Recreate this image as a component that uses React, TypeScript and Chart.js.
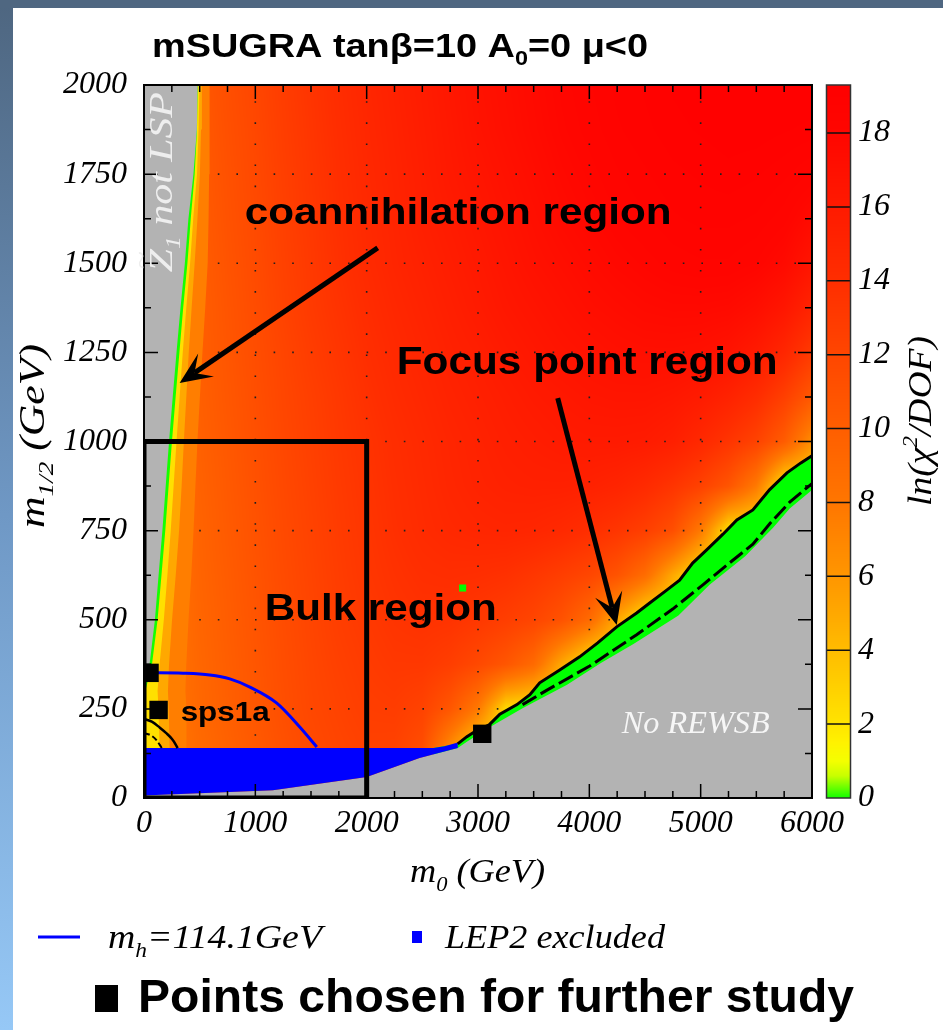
import React, { useEffect, useRef } from 'react';
import { Chart, registerables } from 'chart.js';

Chart.register(...registerables);

// ---------------- axes ----------------
const M0_MIN = 0, M0_MAX = 6000;
const M12_MIN = 0, M12_MAX = 2000;
const CHI_MIN = 0, CHI_MAX = 19.3;
const X_MAJOR = 1000, X_MINOR = 250;
const Y_MAJOR = 250, Y_MINOR = 125;
const CB_STEP = 2;

// ---------------- colour map  ln(chi^2/DOF) ----------------
const CMAP_VALUES = [0, 0.25, 0.6, 1, 1.5, 2, 3, 4, 5, 6, 7, 8, 9, 10, 11, 12, 13, 14, 15, 16, 17, 18, 19.3];
const CMAP_COLORS = ['#10ff00', '#60ff00', '#c8ff00', '#f4ff00', '#fff200', '#ffe400', '#ffd000', '#ffbc00', '#ffa800', '#ff9600', '#ff8600', '#ff7600', '#ff6a00', '#ff5e00', '#ff5200', '#ff4600', '#ff3a00', '#ff2e00', '#ff2400', '#ff1a00', '#ff1000', '#ff0600', '#ff0000'];

// ---------------- ln(chi^2/DOF) scan grid ----------------
const M0_GRID = [0, 250, 500, 750, 1000, 1250, 1500, 1750, 2000, 2250, 2500, 2750, 3000, 3250, 3500, 3750, 4000, 4250, 4500, 4750, 5000, 5250, 5500, 5750, 6000];
const M12_GRID = [2000, 1875, 1750, 1625, 1500, 1375, 1250, 1125, 1000, 875, 750, 625, 500, 375, 250, 125, 0];
const F_2000 = [8, 9, 10.5, 11.3, 12, 12.8, 13.5, 14.2, 14.8, 15.3, 15.8, 16.3, 16.8, 17.2, 17.6, 18, 18.3, 18.6, 18.8, 19, 19.1, 19.2, 19.2, 19.2, 19.2];
const F_1875 = [8, 9, 10.4, 11.2, 11.9, 12.7, 13.4, 14.1, 14.7, 15.2, 15.7, 16.2, 16.7, 17.1, 17.5, 17.9, 18.2, 18.5, 18.7, 18.9, 19, 19.1, 19.1, 19, 18.9];
const F_1750 = [8, 9, 10.3, 11.1, 11.8, 12.6, 13.3, 14, 14.6, 15.1, 15.6, 16.1, 16.5, 16.9, 17.3, 17.7, 18, 18.3, 18.5, 18.7, 18.8, 18.9, 18.8, 18.6, 18.3];
const F_1625 = [8, 9, 10.2, 11, 11.7, 12.5, 13.2, 13.9, 14.5, 15, 15.5, 15.9, 16.3, 16.7, 17.1, 17.5, 17.8, 18.1, 18.3, 18.5, 18.6, 18.6, 18.5, 18.2, 17.5];
const F_1500 = [8, 9, 10.1, 10.9, 11.6, 12.4, 13.1, 13.8, 14.4, 14.9, 15.3, 15.7, 16.1, 16.5, 16.9, 17.2, 17.5, 17.8, 18, 18.2, 18.3, 18.3, 18.1, 17.6, 16.5];
const F_1375 = [8, 9, 10, 10.8, 11.5, 12.3, 13, 13.6, 14.2, 14.7, 15.1, 15.5, 15.9, 16.3, 16.6, 16.9, 17.2, 17.4, 17.6, 17.7, 17.7, 17.6, 17.2, 16.4, 15];
const F_1250 = [8, 9, 10, 10.7, 11.4, 12.1, 12.8, 13.4, 14, 14.5, 14.9, 15.3, 15.6, 16, 16.3, 16.6, 16.8, 17, 17.1, 17.1, 17, 16.7, 16, 14.8, 13];
const F_1125 = [8, 8.9, 9.9, 10.6, 11.3, 12, 12.6, 13.2, 13.8, 14.3, 14.7, 15.1, 15.4, 15.7, 16, 16.2, 16.4, 16.5, 16.5, 16.3, 15.9, 15.2, 14.2, 12.6, 10.5];
const F_1000 = [8, 8.8, 9.8, 10.5, 11.2, 11.9, 12.5, 13.1, 13.6, 14.1, 14.5, 14.9, 15.2, 15.5, 15.7, 15.9, 16, 16, 15.9, 15.5, 14.6, 13.5, 12.3, 10.2, 6.5];
const F_875 = [8, 8.7, 9.7, 10.4, 11.1, 11.8, 12.4, 13, 13.5, 14, 14.4, 14.8, 15.1, 15.3, 15.4, 15.4, 15.3, 15, 14.4, 13.5, 12.4, 10.8, 7.8, 2, 2];
const F_750 = [8, 8.6, 9.6, 10.3, 11, 11.7, 12.3, 12.9, 13.4, 13.9, 14.3, 14.6, 14.8, 14.9, 14.8, 14.5, 14, 13.4, 12.6, 11.3, 7.8, 2.2, 2, 2, 2];
const F_625 = [8, 8.5, 9.5, 10.2, 10.9, 11.6, 12.2, 12.8, 13.3, 13.7, 14, 14.1, 14, 13.8, 13.3, 12.7, 12, 10.9, 8.8, 5, 2, 2, 2, 2, 2];
const F_500 = [8, 8.4, 9.4, 10.1, 10.8, 11.5, 12.1, 12.7, 13.1, 13.5, 13.7, 13.6, 13.2, 12.7, 12.1, 11, 9, 5, 2, 2, 2, 2, 2, 2, 2];
const F_375 = [8, 8.3, 9.3, 10, 10.7, 11.4, 12, 12.5, 12.9, 13.2, 13.2, 12.7, 11.8, 10.7, 9, 5, 2, 2, 2, 2, 2, 2, 2, 2, 2];
const F_250 = [8, 8.2, 9.2, 9.9, 10.6, 11.3, 11.9, 12.3, 12.7, 12.8, 12.3, 10.6, 7.8, 2.5, 2, 2, 2, 2, 2, 2, 2, 2, 2, 2, 2];
const F_125 = [8, 8, 9, 9.7, 10.4, 11.1, 11.7, 12.1, 12.4, 12.3, 11.3, 6, 2, 2, 2, 2, 2, 2, 2, 2, 2, 2, 2, 2, 2];
const F_0 = [8, 8, 9, 9.7, 10.4, 11.1, 11.7, 12.1, 12.4, 12.3, 11.3, 6, 2, 2, 2, 2, 2, 2, 2, 2, 2, 2, 2, 2, 2];
const FIELD = [F_2000, F_1875, F_1750, F_1625, F_1500, F_1375, F_1250, F_1125, F_1000, F_875, F_750, F_625, F_500, F_375, F_250, F_125, F_0];

// ---------------- coannihilation side: contour edges (m0 at each m1/2) ----------------
const COAN_M12 = [0, 140, 250, 300, 375, 500, 625, 750, 875, 1000, 1125, 1250, 1375, 1500, 1625, 1750, 1875, 2000];
const LSP_EDGE_M0 = [0, 0, 0, 0, 50, 98, 131, 165, 195, 225, 258, 292, 328, 367, 399, 444, 475, 481];
const GREEN_EDGE_M0 = [0, 0, 0, 12, 72, 122, 157, 191, 221, 251, 284, 318, 352, 390, 420, 455, 476, 482];
const YELLOW_EDGE_M0 = [140, 140, 130, 122, 140, 178, 210, 240, 266, 292, 320, 348, 380, 414, 442, 476, 490, 498];
const AMBER_EDGE_M0 = [230, 230, 222, 215, 225, 252, 285, 315, 338, 358, 380, 402, 428, 455, 480, 502, 512, 520];
const ORANGE_EDGE_M0 = [385, 385, 378, 372, 380, 400, 425, 445, 462, 480, 502, 525, 550, 572, 580, 585, 588, 590];
const COAN_LEVELS = { orange: 7.5, amber: 5, yellow: 2.2 };

// ---------------- focus point side ----------------
const GREEN_PATCH = [[2600, 140], [2700, 146]];
const FOCUS_SOLID = [[2818, 152], [2900, 172], [2980, 188], [3100, 205], [3196, 235], [3350, 262], [3466, 290], [3554, 323], [3734, 359], [3913, 396], [4075, 435], [4246, 480], [4425, 519], [4542, 547], [4695, 583], [4811, 611], [4928, 659], [5054, 696], [5200, 740], [5325, 780], [5469, 808], [5620, 865], [5775, 912], [5900, 940], [6000, 960]];
const FOCUS_DASHED = [[3400, 262], [3616, 302], [4003, 370], [4425, 458], [4749, 530], [5020, 598], [5262, 660], [5469, 712], [5622, 770], [5800, 830], [6000, 882]];
const REWSB_EDGE = [[2818, 140], [2900, 158], [3100, 198], [3400, 252], [3800, 318], [4100, 378], [4400, 433], [4800, 512], [5080, 598], [5400, 678], [5650, 758], [5800, 812], [6000, 864]];
const LEP_BOTTOM = [[0, 6], [54, 8], [1157, 22], [2000, 59], [2475, 112], [2818, 140]];
const LEP_TOP = [[0, 140], [2600, 140], [2700, 145], [2818, 156]];

// ---------------- lines & points ----------------
const MH_LINE = [[50, 351], [124, 351], [350, 350], [591, 345], [771, 334], [951, 311], [1193, 266], [1399, 199], [1552, 143]];
const ARC_SOLID = [[0, 222], [70, 214], [140, 198], [200, 182], [250, 166], [285, 150], [302, 140]];
const ARC_DASHED = [[0, 182], [60, 176], [110, 163], [150, 145], [160, 140]];
const BULK_BOX = [[0, 0], [2000, 0], [2000, 1000], [0, 1000], [0, 0]];
const CHOSEN_M0 = [50, 131, 3038];
const CHOSEN_M12 = [351, 247, 180];
const STRAY_GREEN = [[2862, 589]];

// ---------------- annotations (data coordinates) ----------------
const COAN_ARROW = [[2099, 1543], [320, 1164]];
const FOCUS_ARROW = [[3716, 1122], [4246, 485]];
const LBL_COAN = [904, 1610];
const LBL_FOCUS = [2270, 1189];
const LBL_BULK = [1084, 499];
const LBL_SPS = [329, 216];
const LBL_REWSB = [4291, 182];
const LBL_LSP = [250, 1475];

const SANS = '"Liberation Sans", Arial, sans-serif';
const SERIF = '"Liberation Serif", "Times New Roman", serif';

// ---------------- helpers ----------------
function hexToRgb(h: string) {
  const n = parseInt(h.slice(1), 16);
  return [(n >> 16) & 255, (n >> 8) & 255, n & 255];
}
const CMAP_RGB = CMAP_COLORS.map(hexToRgb);
function cmapRGB(v: number) {
  if (v <= CMAP_VALUES[0]) return CMAP_RGB[0];
  const last = CMAP_VALUES.length - 1;
  if (v >= CMAP_VALUES[last]) return CMAP_RGB[last];
  let k = 0;
  while (k < last - 1 && v > CMAP_VALUES[k + 1]) k++;
  const t = (v - CMAP_VALUES[k]) / (CMAP_VALUES[k + 1] - CMAP_VALUES[k]);
  const a = CMAP_RGB[k], b = CMAP_RGB[k + 1];
  return [0, 1, 2].map((c) => Math.round(a[c] + (b[c] - a[c]) * t));
}
function cmapCss(v: number) {
  const [r, g, b] = cmapRGB(v);
  return `rgb(${r},${g},${b})`;
}
const pts = (a: number[][]) => a.map(([x, y]) => ({ x, y }));
function closedPoly(a: number[][]) {
  let iMin = 0, iMax = 0;
  a.forEach((p, i) => {
    if (p[0] < a[iMin][0]) iMin = i;
    if (p[0] > a[iMax][0]) iMax = i;
  });
  const rot = a.slice(iMin).concat(a.slice(0, iMin));
  return pts([...rot, rot[0], a[iMax]]);
}
function bandPoly(edge: number[]) {
  const p = edge.map((m0, i) => [m0, COAN_M12[i]]);
  return [[0, 0], ...p, [0, M12_MAX]];
}

type Run = { t: string; s?: number; r?: number; over?: boolean };
function drawRich(ctx: CanvasRenderingContext2D, runs: Run[], x: number, y: number, o: any) {
  const font = (s: number) => `${o.italic ? 'italic ' : ''}${o.weight || 'normal'} ${o.size * s}px ${o.family}`;
  const items: any[] = [];
  let total = 0, prevX = 0, prevW = 0;
  for (const run of runs) {
    const s = run.s ?? 1;
    ctx.font = font(s);
    const w = ctx.measureText(run.t).width;
    if (run.over) items.push({ run, x: prevX + (prevW - w) / 2, s });
    else {
      items.push({ run, x: total, s });
      prevX = total; prevW = w; total += w;
    }
  }
  const sx = o.width ? o.width / total : 1;
  ctx.save();
  ctx.translate(x, y);
  if (o.rotate) ctx.rotate(o.rotate);
  ctx.scale(sx, 1);
  if (o.align === 'center') ctx.translate(-total / 2, 0);
  ctx.fillStyle = o.color;
  ctx.textAlign = 'left';
  ctx.textBaseline = 'alphabetic';
  for (const it of items) {
    ctx.font = font(it.s);
    ctx.fillText(it.run.t, it.x, (it.run.r ?? 0) * o.size);
  }
  ctx.restore();
}

function drawArrow(ctx: CanvasRenderingContext2D, x1: number, y1: number, x2: number, y2: number) {
  const dx = x2 - x1, dy = y2 - y1, len = Math.hypot(dx, dy);
  const ux = dx / len, uy = dy / len, nx = -uy, ny = ux;
  const hl = 32, hw = 14, notch = 18;
  ctx.save();
  ctx.strokeStyle = '#000';
  ctx.fillStyle = '#000';
  ctx.lineWidth = 5;
  ctx.beginPath();
  ctx.moveTo(x1, y1);
  ctx.lineTo(x2 - ux * notch, y2 - uy * notch);
  ctx.stroke();
  ctx.beginPath();
  ctx.moveTo(x2, y2);
  ctx.lineTo(x2 - ux * hl + nx * hw, y2 - uy * hl + ny * hw);
  ctx.lineTo(x2 - ux * notch, y2 - uy * notch);
  ctx.lineTo(x2 - ux * hl - nx * hw, y2 - uy * hl - ny * hw);
  ctx.closePath();
  ctx.fill();
  ctx.restore();
}

// ---------------- plugin ----------------
const msugraPlugin = {
  id: 'msugra',
  beforeDraw(chart: any) {
    const ctx = chart.ctx;
    ctx.save();
    ctx.fillStyle = '#ffffff';
    ctx.fillRect(0, 0, chart.width, chart.height);
    const g = ctx.createLinearGradient(0, 0, 0, chart.height);
    g.addColorStop(0, '#4e6680');
    g.addColorStop(0.5, '#6f98c5');
    g.addColorStop(1, '#96c8f6');
    ctx.fillStyle = g;
    ctx.fillRect(0, 0, 13, chart.height);
    ctx.fillStyle = '#4f6781';
    ctx.fillRect(0, 0, chart.width, 8);
    ctx.restore();
  },
  beforeDatasetsDraw(chart: any) {
    const { ctx, chartArea: a, scales } = chart;
    const xs = scales.x, ys = scales.y;
    const L = Math.round(a.left), T = Math.round(a.top);
    const W = Math.round(a.right) - L, H = Math.round(a.bottom) - T;
    const img = ctx.createImageData(W, H);
    const N = 1024;
    const lut = new Uint8Array(N * 3);
    for (let k = 0; k < N; k++) {
      const c = cmapRGB(CHI_MIN + (CHI_MAX - CHI_MIN) * k / (N - 1));
      lut[k * 3] = c[0]; lut[k * 3 + 1] = c[1]; lut[k * 3 + 2] = c[2];
    }
    const colI = new Int32Array(W), colF = new Float32Array(W);
    for (let px = 0; px < W; px++) {
      const m0 = xs.getValueForPixel(L + px + 0.5);
      let i = 0;
      while (i < M0_GRID.length - 2 && m0 > M0_GRID[i + 1]) i++;
      colI[px] = i;
      colF[px] = Math.min(1, Math.max(0, (m0 - M0_GRID[i]) / (M0_GRID[i + 1] - M0_GRID[i])));
    }
    for (let py = 0; py < H; py++) {
      const m12 = ys.getValueForPixel(T + py + 0.5);
      let j = 0;
      while (j < M12_GRID.length - 2 && m12 < M12_GRID[j + 1]) j++;
      const f = Math.min(1, Math.max(0, (M12_GRID[j] - m12) / (M12_GRID[j] - M12_GRID[j + 1])));
      const r0 = FIELD[j], r1 = FIELD[j + 1];
      for (let px = 0; px < W; px++) {
        const i = colI[px], t = colF[px];
        const v = (r0[i] * (1 - t) + r0[i + 1] * t) * (1 - f) + (r1[i] * (1 - t) + r1[i + 1] * t) * f;
        let k = Math.round((v - CHI_MIN) / (CHI_MAX - CHI_MIN) * (N - 1));
        k = Math.max(0, Math.min(N - 1, k));
        const o = (py * W + px) * 4;
        img.data[o] = lut[k * 3];
        img.data[o + 1] = lut[k * 3 + 1];
        img.data[o + 2] = lut[k * 3 + 2];
        img.data[o + 3] = 255;
      }
    }
    ctx.putImageData(img, L, T);

    // dotted grid
    ctx.save();
    ctx.strokeStyle = '#202020';
    ctx.lineWidth = 1.6;
    ctx.setLineDash([1.6, 17]);
    for (let v = M12_MIN + Y_MAJOR; v < M12_MAX; v += Y_MAJOR) {
      const y = ys.getPixelForValue(v);
      ctx.beginPath(); ctx.moveTo(a.left + 18, y); ctx.lineTo(a.right, y); ctx.stroke();
    }
    ctx.setLineDash([1.6, 19.5]);
    for (let v = M0_MIN + X_MAJOR; v < M0_MAX; v += X_MAJOR) {
      const x = xs.getPixelForValue(v);
      ctx.beginPath(); ctx.moveTo(x, a.bottom - 20); ctx.lineTo(x, a.top); ctx.stroke();
    }
    ctx.restore();
  },
  afterDatasetsDraw(chart: any) {
    const { ctx, chartArea: a, scales } = chart;
    const xs = scales.x, ys = scales.y;
    ctx.save();
    ctx.strokeStyle = '#000';
    ctx.lineWidth = 2;
    ctx.strokeRect(a.left, a.top, a.right - a.left, a.bottom - a.top);
    ctx.lineWidth = 1.5;
    ctx.beginPath();
    for (let v = M0_MIN; v <= M0_MAX; v += X_MINOR) {
      const len = v % X_MAJOR === 0 ? 14 : 7;
      const x = xs.getPixelForValue(v);
      ctx.moveTo(x, a.bottom); ctx.lineTo(x, a.bottom - len);
      ctx.moveTo(x, a.top); ctx.lineTo(x, a.top + len);
    }
    for (let v = M12_MIN; v <= M12_MAX; v += Y_MINOR) {
      const len = v % Y_MAJOR === 0 ? 14 : 7;
      const y = ys.getPixelForValue(v);
      ctx.moveTo(a.left, y); ctx.lineTo(a.left + len, y);
      ctx.moveTo(a.right, y); ctx.lineTo(a.right - len, y);
    }
    ctx.stroke();
    ctx.restore();

    const P = (p: number[]) => [xs.getPixelForValue(p[0]), ys.getPixelForValue(p[1])];
    for (const arr of [COAN_ARROW, FOCUS_ARROW]) {
      const [x1, y1] = P(arr[0]);
      const [x2, y2] = P(arr[1]);
      drawArrow(ctx, x1, y1, x2, y2);
    }
    const bold = { family: SANS, weight: 'bold', color: '#000' };
    let q = P(LBL_COAN);
    drawRich(ctx, [{ t: 'coannihilation region' }], q[0], q[1], { ...bold, size: 37, width: 427 });
    q = P(LBL_FOCUS);
    drawRich(ctx, [{ t: 'Focus point region' }], q[0], q[1], { ...bold, size: 38, width: 381 });
    q = P(LBL_BULK);
    drawRich(ctx, [{ t: 'Bulk region' }], q[0], q[1], { ...bold, size: 37, width: 232 });
    q = P(LBL_SPS);
    drawRich(ctx, [{ t: 'sps1a' }], q[0], q[1], { ...bold, size: 28, width: 89 });
    q = P(LBL_REWSB);
    drawRich(ctx, [{ t: 'No REWSB' }], q[0], q[1], { family: SERIF, italic: true, size: 32, width: 148, color: '#f6f6f6' });
    q = P(LBL_LSP);
    drawRich(ctx, [{ t: 'Z' }, { t: '~', s: 0.8, r: -0.66, over: true }, { t: '1', s: 0.62, r: 0.25 }, { t: ' not LSP' }], q[0], q[1],
      { family: SERIF, italic: true, size: 33, width: 180, color: '#eeeeee', rotate: -Math.PI / 2 });
  },
  afterDraw(chart: any) {
    const { ctx, chartArea: a, scales } = chart;
    const yc = scales.yc;
    // colour bar
    const cbL = a.right + 14.5, cbW = 24;
    ctx.save();
    for (let py = Math.floor(a.top); py < Math.ceil(a.bottom); py++) {
      const v = yc.getValueForPixel(py + 0.5);
      ctx.fillStyle = cmapCss(v);
      ctx.fillRect(cbL, py, cbW, 1);
    }
    ctx.strokeStyle = '#111';
    ctx.lineWidth = 1.5;
    ctx.beginPath();
    for (let v = CHI_MIN + CB_STEP; v < CHI_MAX; v += CB_STEP) {
      const y = yc.getPixelForValue(v);
      ctx.moveTo(cbL, y); ctx.lineTo(cbL + cbW, y);
    }
    ctx.stroke();
    ctx.strokeStyle = '#333';
    ctx.strokeRect(cbL, a.top, cbW, a.bottom - a.top);
    ctx.restore();

    // titles
    drawRich(ctx, [{ t: 'mSUGRA tanβ=10 A' }, { t: '0', s: 0.62, r: 0.25 }, { t: '=0 μ<0' }], 152, 57,
      { family: SANS, weight: 'bold', size: 33, width: 496, color: '#000' });
    const ser = { family: SERIF, italic: true, color: '#000' };
    drawRich(ctx, [{ t: 'm' }, { t: '1/2', s: 0.62, r: 0.25 }, { t: ' (GeV)' }], 44, 528,
      { ...ser, size: 35, width: 184, rotate: -Math.PI / 2 });
    drawRich(ctx, [{ t: 'm' }, { t: '0', s: 0.62, r: 0.25 }, { t: ' (GeV)' }], 410, 882,
      { ...ser, size: 34, width: 135 });
    drawRich(ctx, [{ t: 'ln(χ' }, { t: '2', s: 0.62, r: -0.42 }, { t: '/DOF)' }], 931, 506,
      { ...ser, size: 34, width: 170, rotate: -Math.PI / 2 });

    // legend
    ctx.save();
    ctx.strokeStyle = '#0000ff';
    ctx.lineWidth = 3;
    ctx.beginPath(); ctx.moveTo(38, 937); ctx.lineTo(80, 937); ctx.stroke();
    ctx.fillStyle = '#0000ff';
    ctx.fillRect(412, 931, 10, 12);
    ctx.fillStyle = '#000';
    ctx.fillRect(95, 985, 23, 27);
    ctx.restore();
    drawRich(ctx, [{ t: 'm' }, { t: 'h', s: 0.62, r: 0.25 }, { t: '=114.1GeV' }], 108, 948, { ...ser, size: 34, width: 214 });
    drawRich(ctx, [{ t: 'LEP2 excluded' }], 445, 948, { ...ser, size: 34, width: 220 });
    drawRich(ctx, [{ t: 'Points chosen for further study' }], 138, 1012,
      { family: SANS, weight: 'bold', size: 46, width: 716, color: '#000' });
  },
};

// ---------------- datasets ----------------
function polyDs(a: number[][], color: string) {
  return { type: 'line', data: closedPoly(a), fill: 'shape', backgroundColor: color, borderColor: 'rgba(0,0,0,0)', borderWidth: 0, pointRadius: 0, pointHoverRadius: 0, tension: 0 };
}
function lineDs(a: number[][], color: string, width: number, extra: any = {}) {
  return { type: 'line', data: pts(a), fill: false, borderColor: color, borderWidth: width, pointRadius: 0, pointHoverRadius: 0, tension: 0, ...extra };
}

function buildDatasets() {
  const list: any[] = [
    polyDs(bandPoly(ORANGE_EDGE_M0), cmapCss(COAN_LEVELS.orange)),
    polyDs(bandPoly(AMBER_EDGE_M0), cmapCss(COAN_LEVELS.amber)),
    polyDs(bandPoly(YELLOW_EDGE_M0), cmapCss(COAN_LEVELS.yellow)),
    polyDs(bandPoly(GREEN_EDGE_M0), '#14ff00'),
    polyDs([[GREEN_PATCH[0][0], 0], ...GREEN_PATCH, ...FOCUS_SOLID, [M0_MAX, 0]], '#00ff00'),
    polyDs([[0, 0], ...LEP_BOTTOM, ...REWSB_EDGE.slice(1), [M0_MAX, 0]], '#b3b3b3'),
    polyDs(bandPoly(LSP_EDGE_M0), '#b3b3b3'),
    polyDs([...LEP_TOP, ...LEP_BOTTOM.slice().reverse()], '#0000ff'),
    { type: 'line', data: pts(STRAY_GREEN), showLine: false, pointStyle: 'rect', pointRadius: 5, pointBackgroundColor: '#00ff00', pointBorderWidth: 0 },
    lineDs(ARC_SOLID, '#000', 2.5, { cubicInterpolationMode: 'monotone' }),
    lineDs(ARC_DASHED, '#000', 2, { borderDash: [6, 3], cubicInterpolationMode: 'monotone' }),
    lineDs(FOCUS_DASHED, '#000', 3, { borderDash: [16, 5] }),
    lineDs(FOCUS_SOLID, '#000', 3),
    lineDs(MH_LINE, '#0000ff', 3, { cubicInterpolationMode: 'monotone' }),
    lineDs(BULK_BOX, '#000', 5, { borderJoinStyle: 'miter', borderCapStyle: 'square' }),
    { type: 'line', data: CHOSEN_M0.map((x, i) => ({ x, y: CHOSEN_M12[i] })), showLine: false, pointStyle: 'rect', pointRadius: 13, pointBackgroundColor: '#000', pointBorderWidth: 0 },
  ];
  return list.map((d, i) => ({ ...d, order: 100 - i }));
}

const tickFont = { family: SERIF, size: 32, style: 'italic' as const };

export default function App() {
  const ref = useRef<HTMLCanvasElement>(null);
  useEffect(() => {
    document.body.style.margin = '0';
    const chart = new Chart(ref.current as HTMLCanvasElement, {
      type: 'line',
      data: { datasets: buildDatasets() as any },
      options: {
        responsive: false,
        animation: false,
        events: [],
        layout: { padding: { top: 85, left: 0, right: 0, bottom: 0 } },
        plugins: { legend: { display: false }, tooltip: { enabled: false }, filler: { propagate: false } },
        scales: {
          x: {
            type: 'linear', position: 'bottom', min: M0_MIN, max: M0_MAX,
            grid: { display: false, drawTicks: false }, border: { display: false },
            ticks: { stepSize: X_MAJOR, font: tickFont, color: '#000', padding: 6, maxRotation: 0, autoSkip: false, callback: (v: any) => String(v) },
            afterFit: (s: any) => { s.height = 232; },
          },
          y: {
            type: 'linear', position: 'left', min: M12_MIN, max: M12_MAX,
            grid: { display: false, drawTicks: false }, border: { display: false },
            ticks: { stepSize: Y_MAJOR, font: tickFont, color: '#000', padding: 17, autoSkip: false, callback: (v: any) => String(v) },
            afterFit: (s: any) => { s.width = 144; },
          },
          yc: {
            type: 'linear', position: 'right', min: CHI_MIN, max: CHI_MAX,
            grid: { display: false, drawTicks: false }, border: { display: false },
            ticks: { stepSize: CB_STEP, includeBounds: false, font: tickFont, color: '#000', padding: 46, autoSkip: false, callback: (v: any) => (v % 2 === 0 ? String(v) : '') },
            afterFit: (s: any) => { s.width = 131; },
          },
        },
      } as any,
      plugins: [msugraPlugin as any],
    });
    return () => chart.destroy();
  }, []);
  return (
    <div style={{ position: 'fixed', left: 0, top: 0, width: 943, height: 1030, background: '#fff' }}>
      <canvas ref={ref} width={943} height={1030} style={{ display: 'block', width: 943, height: 1030 }} />
    </div>
  );
}
